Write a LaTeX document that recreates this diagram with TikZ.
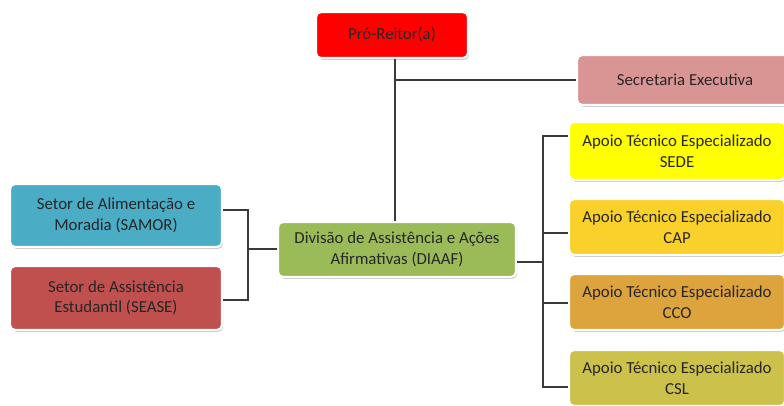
\documentclass[tikz,border=0pt]{standalone}
\usepackage{fontspec}
\setmainfont{Carlito}
\usetikzlibrary{shadows,calc}
\definecolor{txt}{HTML}{262626}
\definecolor{lnc}{HTML}{3A3A3A}
\definecolor{cRed}{HTML}{FF0000}
\definecolor{cSec}{HTML}{D99594}
\definecolor{cBlue}{HTML}{4BACC6}
\definecolor{cDRed}{HTML}{C0504D}
\definecolor{cGreen}{HTML}{9BBB59}
\definecolor{cY1}{HTML}{FFFF00}
\definecolor{cY2}{HTML}{FAD12A}
\definecolor{cY3}{HTML}{DDA33C}
\definecolor{cY4}{HTML}{CBC14B}
\tikzset{
  orgbox/.style={draw=white, line width=2.2pt, rounded corners=5pt, align=center,
    text=txt, font=\fontsize{16.8}{20.5}\selectfont,
    drop shadow={shadow xshift=1.2pt, shadow yshift=-1.8pt, opacity=0.35, fill=black!60},
    inner sep=2pt},
  conn/.style={draw=lnc, line width=1.1pt}
}
\begin{document}
\begin{tikzpicture}[x=1pt,y=1pt]
\useasboundingbox (0,0) rectangle (784,-405);
\fill[white] (0,0) rectangle (784,-405);
\node[orgbox, fill=cRed, minimum width=152pt, minimum height=46pt] (pro) at (392,-35) {Pró-Reitor(a)};
\node[orgbox, fill=cSec, minimum width=216pt, minimum height=50pt] (sec) at (685,-80) {Secretaria Executiva};
\node[orgbox, fill=cBlue, minimum width=212pt, minimum height=63pt] (samor) at (116,-215.5) {Setor de Alimentação e\\Moradia (SAMOR)};
\node[orgbox, fill=cDRed, minimum width=212pt, minimum height=64pt] (sease) at (116,-298) {Setor de Assistência\\Estudantil (SEASE)};
\node[orgbox, fill=cGreen, minimum width=238pt, minimum height=55pt] (diaaf) at (397,-249.5) {Divisão de Assistência e Ações\\Afirmativas (DIAAF)};
\node[orgbox, fill=cY1, minimum width=216pt, minimum height=58pt] (sede) at (677,-151) {Apoio Técnico Especializado\\SEDE};
\node[orgbox, fill=cY2, minimum width=216pt, minimum height=56pt] (cap) at (677,-227) {Apoio Técnico Especializado\\CAP};
\node[orgbox, fill=cY3, minimum width=216pt, minimum height=56pt] (cco) at (677,-302) {Apoio Técnico Especializado\\CCO};
\node[orgbox, fill=cY4, minimum width=216pt, minimum height=56pt] (csl) at (677,-378) {Apoio Técnico Especializado\\CSL};
% top connectors
\coordinate (jt) at (395,-80);
\draw[conn] (pro.south -| jt) -- (diaaf.north -| jt);
\draw[conn] (jt) -- (sec.west |- jt);
% left connectors
\coordinate (jl) at (248,-249);
\draw[conn] ([yshift=5.5pt]samor.east) -| (jl) |- ([yshift=-2pt]sease.east);
\draw[conn] (jl) -- (diaaf.west |- jl);
% right connectors
\coordinate (jr) at (543,-262);
\draw[conn] (diaaf.east |- jr) -- (jr);
\draw[conn] ([yshift=15pt]sede.west) -| (jr);
\draw[conn] ([yshift=-9pt]csl.west) -| (jr);
\draw[conn] ([yshift=-6pt]cap.west) -- ++(-26,0);
\draw[conn] ([yshift=-1pt]cco.west) -- ++(-26,0);
\end{tikzpicture}
\end{document}
